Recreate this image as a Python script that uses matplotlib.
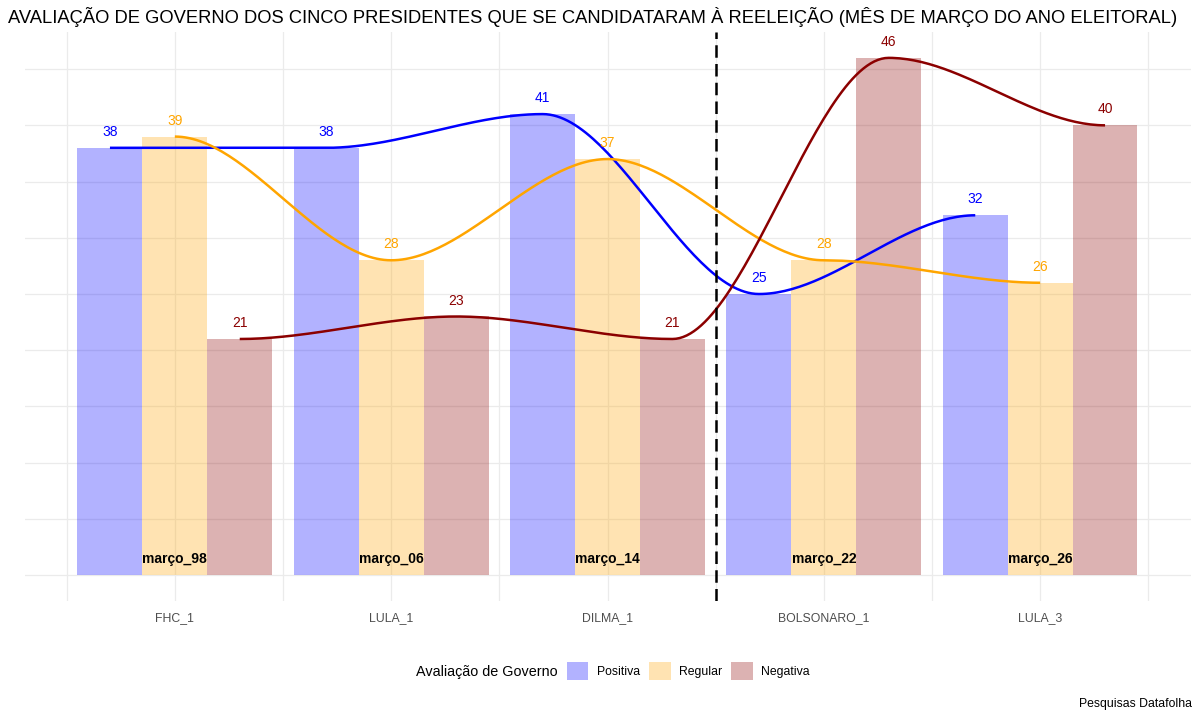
import numpy as np
import matplotlib
matplotlib.use("Agg")
import matplotlib.pyplot as plt
from matplotlib.patches import Patch

plt.rcParams['font.family'] = ['Liberation Sans', 'DejaVu Sans']

# ---- data ----
presidents = ["FHC_1", "LULA_1", "DILMA_1", "BOLSONARO_1", "LULA_3"]
months = ["março_98", "março_06", "março_14", "março_22", "março_26"]
positiva = [38, 38, 41, 25, 32]
regular = [39, 28, 37, 28, 26]
negativa = [21, 23, 21, 46, 40]
series_names = ["Positiva", "Regular", "Negativa"]
series_colors = ["blue", "orange", "darkred"]

# ---- figure ----
W, H = 1200, 718
fig = plt.figure(figsize=(W / 100, H / 100), dpi=100)
ax = fig.add_axes([24.5 / W, 1 - 601 / H, 1166 / W, 569 / H])

x = np.arange(1, len(presidents) + 1)
bw = 0.3
offsets = [-bw, 0, bw]
all_series = [positiva, regular, negativa]

# gridlines
for gy in np.arange(0, 50, 5):
    ax.axhline(gy, color="#EBEBEB", lw=0.9, zorder=0)
for gx in np.arange(0.5, 6.0, 0.5):
    ax.axvline(gx, color="#EBEBEB", lw=0.9, zorder=0)

# bars
for vals, off, col in zip(all_series, offsets, series_colors):
    ax.bar(x + off, vals, width=bw, color=col, alpha=0.3, lw=0, zorder=1)


def smooth_curve(xs, ys, n=60):
    """Piecewise cubic through points with flat tangents at each point."""
    px, py = [], []
    for i in range(len(xs) - 1):
        t = np.linspace(0, 1, n, endpoint=(i == len(xs) - 2))
        h = 3 * t ** 2 - 2 * t ** 3
        px.append(xs[i] + (xs[i + 1] - xs[i]) * t)
        py.append(ys[i] + (ys[i + 1] - ys[i]) * h)
    return np.concatenate(px), np.concatenate(py)


# lines + value labels
for vals, off, col in zip(all_series, offsets, series_colors):
    cx, cy = smooth_curve(x + off, np.array(vals, dtype=float))
    ax.plot(cx, cy, color=col, lw=1.8, zorder=3, solid_capstyle="butt")
    for xi, v in zip(x + off, vals):
        ax.annotate(str(v), (xi, v), xytext=(0, 11.5), textcoords="offset points",
                    ha="center", va="center", color=col, fontsize=10, zorder=4)

# month labels
for xi, m in zip(x, months):
    ax.text(xi, 1.42, m, ha="center", va="center", fontsize=10, fontweight="bold",
            color="black", zorder=4)

# dashed separator
ax.axvline(3.5, color="black", lw=1.8, linestyle=(0, (5, 2.5)), zorder=5)

ax.set_xlim(0.305, 5.695)
ax.set_ylim(-2.3, 48.3)
ax.set_xticks(x)
ax.set_xticklabels(presidents, fontsize=8.8, color="#4D4D4D")
ax.set_yticks([])
ax.tick_params(axis="x", length=0, pad=8)
for s in ax.spines.values():
    s.set_visible(False)

# title
fig.text(8 / W, 1 - 17 / H,
         "AVALIAÇÃO DE GOVERNO DOS CINCO PRESIDENTES QUE SE CANDIDATARAM À REELEIÇÃO (MÊS DE MARÇO DO ANO ELEITORAL)",
         ha="left", va="center", fontsize=13.2, color="black")

# legend
fig.text(416 / W, 1 - 672 / H, "Avaliação de Governo", ha="left", va="center",
         fontsize=10.4, color="black")
handles = [Patch(facecolor=c, alpha=0.3, edgecolor="none") for c in series_colors]
fig.legend(handles, series_names, loc="center left",
           bbox_to_anchor=(567 / W, 1 - 671 / H), ncol=3, frameon=False,
           fontsize=8.8, handlelength=1.75, handleheight=1.8,
           handletextpad=0.7, columnspacing=0.75, borderpad=0, borderaxespad=0)

# caption
fig.text(1192 / W, 1 - 704 / H, "Pesquisas Datafolha", ha="right", va="center",
         fontsize=8.8, color="black")

fig.savefig("out.png", dpi=100)
